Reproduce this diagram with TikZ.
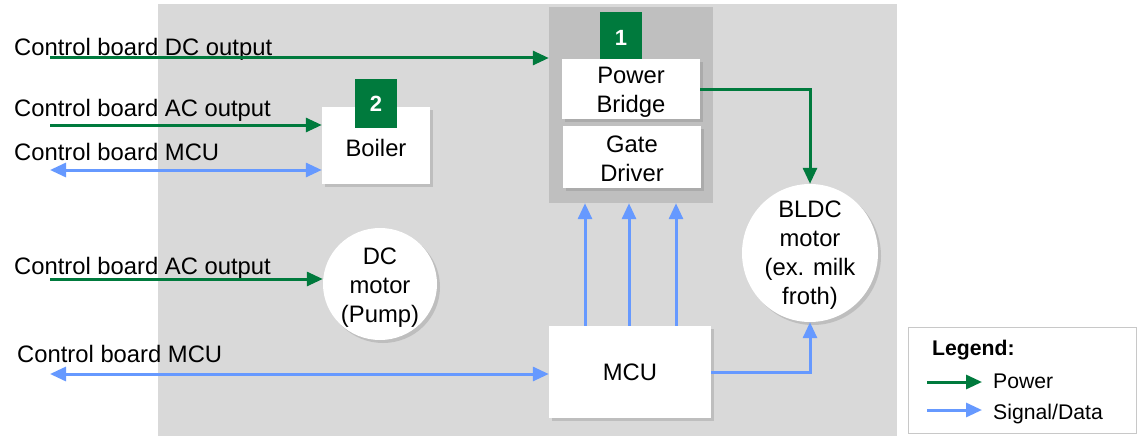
\documentclass[tikz,border=0pt]{standalone}
\usepackage{fontspec}
\setmainfont{Liberation Sans}
\usetikzlibrary{arrows.meta,shadows,shapes.geometric}
\definecolor{bggray}{RGB}{217,217,217}
\definecolor{grpgray}{RGB}{191,191,191}
\definecolor{pgreen}{RGB}{0,122,61}
\definecolor{sblue}{RGB}{102,153,255}
\definecolor{lgborder}{RGB}{200,200,200}
\begin{document}
\begin{tikzpicture}[x=1pt,y=-1pt,
  txt/.style={font=\fontsize{23.8pt}{29pt}\selectfont},
  lbl/.style={txt, inner sep=0pt, anchor=base west},
  box/.style={txt, fill=white, draw=none, inner sep=0pt, align=center,
    drop shadow={shadow xshift=3pt,shadow yshift=-3pt,opacity=0.3}},
  motor/.style={box, ellipse},
  badge/.style={fill=pgreen, text=white, inner sep=0pt,
    font=\bfseries\fontsize{22pt}{24pt}\selectfont},
  pw/.style={draw=pgreen, line width=3pt, -{Triangle[length=16pt,width=14pt]}},
  sg/.style={draw=sblue, line width=3pt, -{Triangle[length=16pt,width=14pt]}},
  sgd/.style={draw=sblue, line width=3pt, {Triangle[length=16pt,width=14pt]}-{Triangle[length=16pt,width=14pt]}},
  legtxt/.style={font=\fontsize{21.2pt}{24pt}\selectfont, inner sep=0pt, anchor=base west}
]
\useasboundingbox (0,0) rectangle (1138,436);
\fill[white] (0,0) rectangle (1138,436);
\fill[bggray] (158,4) rectangle (897,436);

% group 1
\node[fill=grpgray, minimum width=164pt, minimum height=196pt, inner sep=0pt] (grp) at (631,105) {};
\node[badge, minimum width=42pt, minimum height=52pt] (b1) at (621,38) {1};
\node[box, minimum width=138pt, minimum height=60pt,
  label={[txt, align=center, yshift=-3pt]center:{Power\\Bridge}}] (pb) at (631,89) {};
\node[box, minimum width=138pt, minimum height=62pt,
  label={[txt, align=center, yshift=-2pt]center:{Gate\\Driver}}] (gd) at (632,157) {};

% boiler
\node[box, minimum width=108pt, minimum height=77pt,
  label={[txt, yshift=-2pt]center:Boiler}] (boiler) at (376,145.5) {};
\node[badge, minimum width=42pt, minimum height=49pt] (b2) at (376,103.5) {2};

% motors
\node[motor, minimum width=114pt, minimum height=112pt,
  label={[txt, align=center, yshift=-4pt]center:{DC\\motor\\(Pump)}}] (dcm) at (380,284) {};
\node[motor, minimum width=136pt, minimum height=138pt,
  label={[txt, align=center, yshift=-2pt]center:{BLDC\\motor\\(ex. milk\\froth)}}] (bldc) at (810,253) {};

% MCU
\node[box, minimum width=162pt, minimum height=92pt] (mcu) at (630,372) {MCU};

% left labels
\node[lbl] (t1) at (14,56) {Control board DC output};
\node[lbl] (t2) at (14,116) {Control board AC output};
\node[lbl] (t3) at (14,160) {Control board MCU};
\node[lbl] (t4) at (14,274) {Control board AC output};
\node[lbl] (t5) at (17,362) {Control board MCU};

\coordinate (c1) at (50,58);
\coordinate (c2) at (50,125);
\coordinate (c3) at (50,170);
\coordinate (c4) at (50,279);
\coordinate (c5) at (50,374);

\draw[pw] (c1) -- (c1 -| grp.west);
\draw[pw] (c2) -- (c2 -| boiler.west);
\draw[sgd] (c3) -- (c3 -| boiler.west);
\draw[pw] (c4) -- (c4 -| dcm.west);
\draw[sgd] (c5) -- (c5 -| mcu.west);

% internal connections
\draw[pw] (pb.east) -| (bldc.north);
\draw[sg] (mcu.east) -| (bldc.south);
\draw[sg] ([xshift=-45pt]mcu.north) -- ([xshift=-45pt]mcu.north |- grp.south);
\draw[sg] ([xshift=-1pt]mcu.north) -- ([xshift=-1pt]mcu.north |- grp.south);
\draw[sg] ([xshift=46pt]mcu.north) -- ([xshift=46pt]mcu.north |- grp.south);

% legend
\node[draw=lgborder, fill=white, line width=1pt, minimum width=228pt, minimum height=106pt, inner sep=0pt] (leg) at (1022,380) {};
\node[legtxt, font=\bfseries\fontsize{21.2pt}{24pt}\selectfont] (legt) at (932,355) {Legend:};
\coordinate (lp1) at (927,382);
\coordinate (lp2) at (982,382);
\coordinate (ls1) at (927,410);
\coordinate (ls2) at (982,410);
\draw[pw] (lp1) -- (lp2);
\draw[sg] (ls1) -- (ls2);
\node[legtxt] (lpt) at (993,388) {Power};
\node[legtxt] (lst) at (993,419) {Signal/Data};
\end{tikzpicture}
\end{document}
